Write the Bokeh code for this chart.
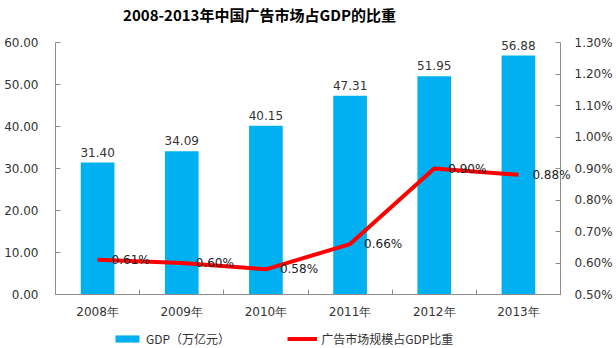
from bokeh.plotting import figure
from bokeh.models import (Range1d, LinearAxis, FixedTicker, PrintfTickFormatter,
                          ColumnDataSource, LabelSet, Label, Legend, LegendItem)
from bokeh.core.properties import value
from bokeh.embed import file_html
from bokeh.resources import INLINE

years = ["2008年", "2009年", "2010年", "2011年", "2012年", "2013年"]
gdp = [31.40, 34.09, 40.15, 47.31, 51.95, 56.88]
share = [0.61, 0.60, 0.58, 0.66, 0.90, 0.88]
left_ticks = [0, 10, 20, 30, 40, 50, 60]
right_ticks = [0.5, 0.6, 0.7, 0.8, 0.9, 1.0, 1.1, 1.2, 1.3]
title_text = "2008-2013年中国广告市场占GDP的比重"
bar_name = "GDP（万亿元）"
line_name = "广告市场规模占GDP比重"

# layout (pixels)
W, H = 616, 348
FL, AR, AT, AB = 55, 560, 42, 294   # frame left, axis right, axis top, axis bottom
n = len(years)
L_LO, L_HI = left_ticks[0], left_ticks[-1]
R_LO, R_HI = right_ticks[0], right_ticks[-1]
ky = (L_HI - L_LO) / (AB - AT)
kr = (R_HI - R_LO) / (AB - AT)

xs = [i + 0.5 for i in range(n)]
src = ColumnDataSource(dict(
    x=xs, gdp=gdp, share=share,
    gdp_lab=["%.2f" % v for v in gdp],
    share_lab=["%.2f%%" % v for v in share],
))

FONT = "DejaVu Sans"
TXT = "#333333"
AX = "#8c8c8c"

p = figure(width=W, height=H, output_backend="svg", toolbar_location=None,
           x_range=Range1d(0, n * (W - FL) / (AR - FL)),
           y_range=Range1d(L_LO - (H - AB) * ky, L_HI + AT * ky),
           min_border_left=FL, min_border_right=0, min_border_top=0,
           min_border_bottom=0)
p.outline_line_color = None
p.xgrid.grid_line_color = None
p.ygrid.grid_line_color = None
p.background_fill_color = "white"
p.border_fill_color = "white"

p.extra_y_ranges = {"pct": Range1d(R_LO - (H - AB) * kr, R_HI + AT * kr)}

bars = p.vbar(x="x", top="gdp", width=0.4, source=src, fill_color="#00B0F0",
              line_color=None)
line = p.line(x="x", y="share", source=src, y_range_name="pct",
              line_color="#FF0000", line_width=4)

# x axis
xa = p.xaxis[0]
xa.fixed_location = L_LO
xa.bounds = (0, n)
xa.ticker = FixedTicker(ticks=xs, minor_ticks=list(range(n + 1)))
xa.major_label_overrides = {x: y for x, y in zip(xs, years)}
xa.major_tick_in = 0
xa.major_tick_out = 0
xa.minor_tick_in = 5
xa.minor_tick_out = 0
xa.minor_tick_line_color = AX
xa.axis_line_color = AX
xa.major_label_text_font = FONT
xa.major_label_text_font_size = "12px"
xa.major_label_text_color = TXT
xa.major_label_standoff = 10

# left axis
ya = p.yaxis[0]
ya.bounds = (L_LO, L_HI)
ya.ticker = FixedTicker(ticks=left_ticks)
ya.formatter = PrintfTickFormatter(format="%.2f")
ya.major_tick_in = 5
ya.major_tick_out = 0
ya.minor_tick_line_color = None
ya.axis_line_color = AX
ya.major_tick_line_color = AX
ya.major_label_text_font = FONT
ya.major_label_text_font_size = "12px"
ya.major_label_text_color = TXT
ya.major_label_standoff = 17

ra = LinearAxis(y_range_name="pct", ticker=FixedTicker(ticks=right_ticks),
                formatter=PrintfTickFormatter(format="%.2f%%"),
                fixed_location=n, bounds=(R_LO, R_HI))
ra.major_tick_in = 5
ra.major_tick_out = 0
ra.minor_tick_line_color = None
ra.axis_line_color = AX
ra.major_tick_line_color = AX
ra.major_label_text_font = FONT
ra.major_label_text_font_size = "12px"
ra.major_label_text_color = TXT
ra.major_label_standoff = 14
p.add_layout(ra, "right")

bl = LabelSet(x="x", y="gdp", text="gdp_lab", source=src, text_align="center",
              text_baseline="bottom", y_offset=6, text_font=value(FONT),
              text_font_size=value("12px"), text_color=TXT)
p.add_layout(bl)
ll = LabelSet(x="x", y="share", text="share_lab", source=src, y_range_name="pct",
              text_align="left", text_baseline="middle", x_offset=14,
              text_font=value(FONT), text_font_size=value("12px"),
              text_color="#222222")
p.add_layout(ll)

title = Label(x=204, y=H - 14, x_units="screen", y_units="screen", text=title_text,
              text_align="center", text_baseline="middle",
              text_font="Noto Sans CJK SC", text_font_size="15px",
              text_font_style="bold", text_color="#000000")
p.add_layout(title)

legend = Legend(items=[LegendItem(label=bar_name, renderers=[bars]),
                       LegendItem(label=line_name, renderers=[line])],
                orientation="horizontal", location=(57, 1),
                glyph_width=30, glyph_height=9, label_standoff=4, spacing=57,
                label_height=9,
                padding=0, margin=0, border_line_color=None,
                background_fill_alpha=0,
                label_text_font="Noto Sans CJK SC", label_text_font_size="12px",
                label_text_color=TXT)
p.add_layout(legend)

open("out.html", "w").write(file_html(p, INLINE))
